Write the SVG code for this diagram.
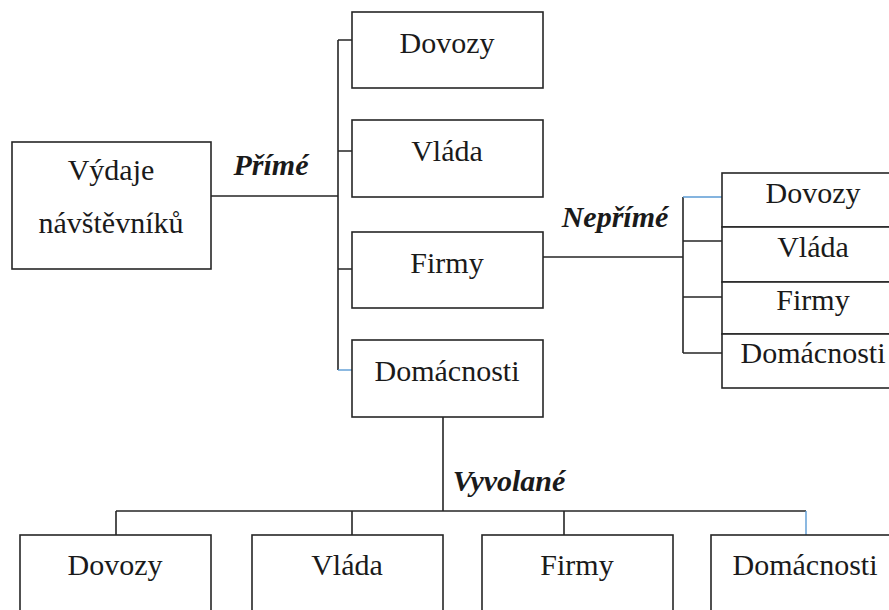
<svg xmlns="http://www.w3.org/2000/svg" width="889" height="610" viewBox="0 0 889 610">
<style>
.box{fill:#fff;stroke:#262626;stroke-width:1.6}
.t{font-family:'Liberation Serif','Times New Roman','DejaVu Serif',serif;font-size:30px;fill:#1a1a1a;text-anchor:middle}
.lbl{font-family:'Liberation Serif','Times New Roman','DejaVu Serif',serif;font-size:30px;font-weight:bold;font-style:italic;fill:#1a1a1a;text-anchor:middle}
.c{fill:none;stroke:#262626;stroke-width:1.6}
.cb{fill:none;stroke:#5b9bd5;stroke-width:1.4}
</style>
<rect width="889" height="610" fill="#fff"/>
<g id="connectors">
<path class="c" d="M211,196 H338 M338,40 V370 M338,40 H352 M338,151 H352 M338,269 H352"/>
<path class="cb" d="M338,370 H352"/>
<path class="c" d="M543,257 H683 M683,197 V353 M683,241 H722 M683,297 H722 M683,353 H722"/>
<path class="cb" d="M683,197 H722"/>
<path class="c" d="M443,417 V511 M116,511 H806 M116,511 V535 M352,511 V535 M564,511 V535"/>
<path class="cb" d="M806,511 V535"/>
<text class="lbl" x="271" y="175">Přímé</text>
<text class="lbl" x="615" y="227">Nepřímé</text>
<text class="lbl" x="509" y="491">Vyvolané</text>
</g>
<g id="vydaje"><rect class="box" x="12" y="142" width="199" height="127"/><text class="t" x="111" y="180">Výdaje</text><text class="t" x="111" y="233">návštěvníků</text></g>
<g id="p-dovozy"><rect class="box" x="352" y="12" width="191" height="76"/><text class="t" x="447" y="53">Dovozy</text></g>
<g id="p-vlada"><rect class="box" x="352" y="120" width="191" height="77"/><text class="t" x="447" y="161">Vláda</text></g>
<g id="p-firmy"><rect class="box" x="352" y="232" width="191" height="76"/><text class="t" x="447" y="273">Firmy</text></g>
<g id="p-domacnosti"><rect class="box" x="352" y="340" width="191" height="77"/><text class="t" x="447" y="381">Domácnosti</text></g>
<g id="n-dovozy"><rect class="box" x="722" y="173" width="180" height="54"/><text class="t" x="813" y="203">Dovozy</text></g>
<g id="n-vlada"><rect class="box" x="722" y="227" width="180" height="55"/><text class="t" x="813" y="257">Vláda</text></g>
<g id="n-firmy"><rect class="box" x="722" y="282" width="180" height="52"/><text class="t" x="813" y="310">Firmy</text></g>
<g id="n-domacnosti"><rect class="box" x="722" y="334" width="180" height="54"/><text class="t" x="813" y="363">Domácnosti</text></g>
<g id="v-dovozy"><rect class="box" x="20" y="535" width="191" height="90"/><text class="t" x="115" y="575">Dovozy</text></g>
<g id="v-vlada"><rect class="box" x="252" y="535" width="191" height="90"/><text class="t" x="347" y="575">Vláda</text></g>
<g id="v-firmy"><rect class="box" x="482" y="535" width="191" height="90"/><text class="t" x="577" y="575">Firmy</text></g>
<g id="v-domacnosti"><rect class="box" x="711" y="535" width="191" height="90"/><text class="t" x="805" y="575">Domácnosti</text></g>
</svg>
